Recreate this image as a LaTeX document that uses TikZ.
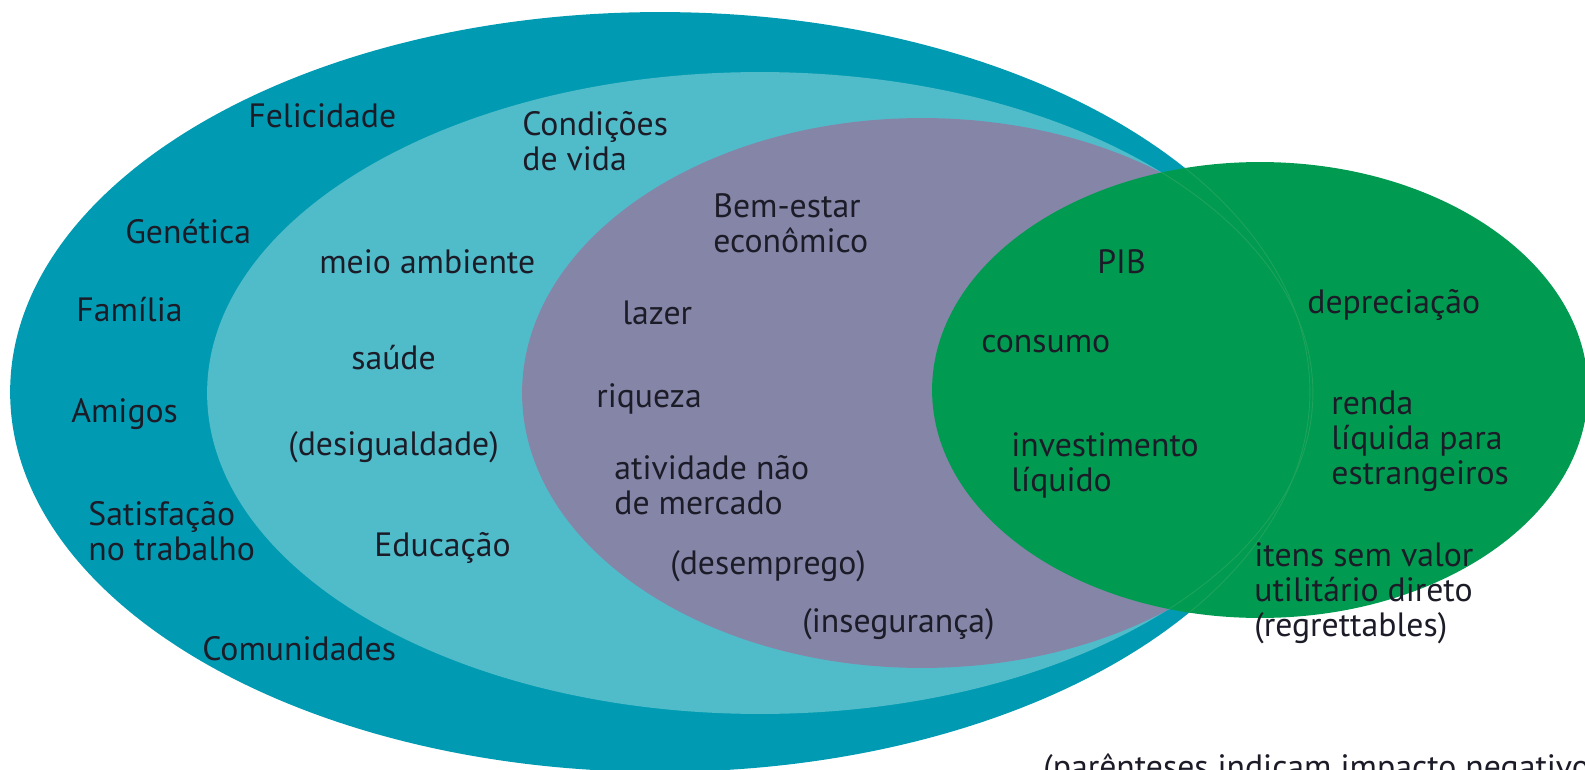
\documentclass[tikz,border=0pt]{standalone}
\usepackage{fontspec}
\setmainfont{PT Sans}
\usetikzlibrary{shapes.geometric}
\definecolor{outerteal}{RGB}{0,155,178}
\definecolor{lightteal}{RGB}{80,188,202}
\definecolor{econpurple}{RGB}{133,133,168}
\definecolor{gdpgreen}{RGB}{0,155,80}
\definecolor{seamgreen}{RGB}{30,162,92}
\definecolor{inktext}{RGB}{28,28,40}
\tikzstyle{region} = [draw=none, ellipse, inner sep=0pt]
\tikzstyle{itemtext} = [text=inktext, font=\fontsize{19.2}{20}\selectfont, anchor=west, align=left, inner sep=0pt]
\tikzstyle{seam} = [draw=seamgreen, line width=0.5pt]

\begin{document}
\begin{tikzpicture}[x=0.02cm, y=-0.02cm]
    \useasboundingbox (0,0) rectangle (1585,770);
    % Place regions
    \node [region, fill=outerteal, minimum width=26cm, minimum height=15.2cm] (felic) at (660,392) {};
    \node [region, fill=lightteal, minimum width=22.12cm, minimum height=12.84cm] (condvida) at (760,393) {};
    \node [region, fill=econpurple, minimum width=16cm, minimum height=11cm] (econ) at (922,393) {};
    \node [region, fill=gdpgreen, minimum width=13.12cm, minimum height=9.12cm] (gdp) at (1260,390) {};
    % faint edges of the inner regions seen through the green one
    \begin{scope}
    \clip (gdp.center) ellipse [x radius=6.56cm, y radius=4.56cm];
    \path [seam] (felic.center) ellipse [x radius=13cm, y radius=7.6cm];
    \path [seam] (condvida.center) ellipse [x radius=11.06cm, y radius=6.42cm];
    \end{scope}

    % Place labels
    \node [itemtext] (felicidade) at (248,116) {Felicidade};
    \node [itemtext] (genetica) at (125,232) {Genética};
    \node [itemtext] (familia) at (76,310) {Família};
    \node [itemtext] (amigos) at (71,414) {Amigos};
    \node [itemtext] (satisfacao) at (88,531) {Satisfação\\no trabalho};
    \node [itemtext] (comunidades) at (202,649) {Comunidades};

    \node [itemtext] (condicoes) at (522,141) {Condições\\de vida};
    \node [itemtext] (meioamb) at (319,262) {meio ambiente};
    \node [itemtext] (saude) at (351,358) {saúde};
    \node [itemtext] (desigualdade) at (288,447) {(desigualdade)};
    \node [itemtext] (educacao) at (374,548) {Educação};

    \node [itemtext] (bemestar) at (713,223) {Bem-estar\\econômico};
    \node [itemtext] (lazer) at (622,313) {lazer};
    \node [itemtext] (riqueza) at (596,399) {riqueza};
    \node [itemtext] (atividade) at (614,485) {atividade não\\de mercado};
    \node [itemtext] (desemprego) at (670,566) {(desemprego)};
    \node [itemtext] (inseguranca) at (802,624) {(insegurança)};

    \node [itemtext] (pib) at (1097,262) {PIB};
    \node [itemtext] (consumo) at (981,344) {consumo};
    \node [itemtext] (investimento) at (1011,465) {investimento\\líquido};
    \node [itemtext] (depreciacao) at (1307,305) {depreciação};
    \node [itemtext] (renda) at (1331,441) {renda\\líquida para\\estrangeiros};
    \node [itemtext] (itens) at (1254,593) {itens sem valor\\utilitário direto\\(regrettables)};

    \node [itemtext, anchor=north west] (nota) at (1043,753) {(parênteses indicam impacto negativo)};
\end{tikzpicture}
\end{document}
